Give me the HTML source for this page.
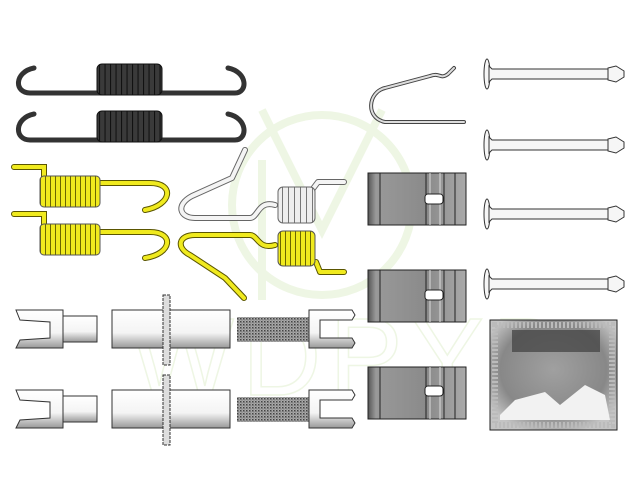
<!DOCTYPE html>
<html><head><meta charset="utf-8"><style>
html,body{margin:0;padding:0;background:#fff;width:640px;height:480px;overflow:hidden}
svg{display:block}
</style></head><body>
<svg width="640" height="480" viewBox="0 0 640 480" xmlns="http://www.w3.org/2000/svg">
<defs>
<pattern id="coilB" width="5.5" height="10" patternUnits="userSpaceOnUse"><rect width="5.5" height="10" fill="#3a3a3a"/><line x1="0.5" y1="0" x2="0.5" y2="10" stroke="#111" stroke-width="1.2"/></pattern>
<pattern id="coilY" width="5" height="10" patternUnits="userSpaceOnUse"><rect width="5" height="10" fill="#f0ea1e"/><line x1="0.5" y1="0" x2="0.5" y2="10" stroke="#6b6600" stroke-width="1"/></pattern>
<pattern id="coilW" width="6" height="10" patternUnits="userSpaceOnUse"><rect width="6" height="10" fill="#eee"/><line x1="0.5" y1="0" x2="0.5" y2="10" stroke="#777" stroke-width="1"/></pattern>
<pattern id="thr" width="3" height="3" patternUnits="userSpaceOnUse"><rect width="3" height="3" fill="#aaa"/><rect width="1.5" height="1.5" fill="#444"/><rect x="1.5" y="1.5" width="1" height="1" fill="#666"/></pattern>
<linearGradient id="cyl" x1="0" y1="0" x2="0" y2="1"><stop offset="0" stop-color="#fff"/><stop offset="0.6" stop-color="#f4f4f4"/><stop offset="1" stop-color="#999"/></linearGradient>
<linearGradient id="blk" x1="0" y1="0" x2="1" y2="0"><stop offset="0" stop-color="#555"/><stop offset="0.08" stop-color="#999"/><stop offset="0.6" stop-color="#8a8a8a"/><stop offset="1" stop-color="#aaa"/></linearGradient>
<radialGradient id="sach" cx="0.5" cy="0.45" r="0.6"><stop offset="0" stop-color="#a0a0a0"/><stop offset="0.7" stop-color="#888"/><stop offset="1" stop-color="#c4c4c4"/></radialGradient>
</defs>

<!-- watermark -->
<g fill="none" stroke="#eef6e4" stroke-width="8">
<circle cx="322" cy="205" r="90"/>
<path d="M262 110 L322 230 L382 110"/>
<line x1="262" y1="160" x2="262" y2="300"/>
</g>
<text x="130" y="395" font-family="Liberation Sans, sans-serif" font-size="110" fill="none" stroke="#eef6e4" stroke-width="1.5" letter-spacing="8">WDPYD</text>

<!-- black springs -->
<g fill="none" stroke="#333" stroke-width="5" stroke-linecap="round">
<path d="M34 68 C14 72 14 93 30 93 L235 93 C248 93 248 72 228 68"/>
<path d="M34 114 C14 118 14 140 30 140 L235 140 C248 140 248 118 228 114"/>
</g>
<rect x="97" y="64" width="65" height="31" rx="5" fill="url(#coilB)" stroke="#111"/>
<rect x="97" y="111" width="65" height="31" rx="5" fill="url(#coilB)" stroke="#111"/>

<!-- yellow springs left -->
<g fill="none" stroke="#5a5500" stroke-width="6" stroke-linecap="round"><path d="M14 167 L44 167 L44 178"/><path d="M100 183 L150 183 C175 183 172 205 145 210"/><path d="M14 214 L44 214 L44 225"/><path d="M100 232 L150 232 C175 232 172 254 145 258"/></g>
<g fill="none" stroke="#f0ea1e" stroke-width="4" stroke-linecap="round"><path d="M14 167 L44 167 L44 178"/><path d="M100 183 L150 183 C175 183 172 205 145 210"/><path d="M14 214 L44 214 L44 225"/><path d="M100 232 L150 232 C175 232 172 254 145 258"/></g>
<rect x="40" y="176" width="60" height="31" rx="4" fill="url(#coilY)" stroke="#555"/>
<rect x="40" y="224" width="60" height="31" rx="4" fill="url(#coilY)" stroke="#555"/>

<!-- white spring -->
<g fill="none" stroke-linecap="round" stroke-linejoin="round">
<path d="M245 150 L232 178 L192 196 C175 205 180 218 195 218 L250 218 C258 218 258 200 275 205" stroke="#666" stroke-width="6"/>
<path d="M245 150 L232 178 L192 196 C175 205 180 218 195 218 L250 218 C258 218 258 200 275 205" stroke="#f4f4f4" stroke-width="4"/>
<path d="M312 190 L318 182 L344 182" stroke="#666" stroke-width="6"/>
<path d="M312 190 L318 182 L344 182" stroke="#f4f4f4" stroke-width="4"/>
</g>
<rect x="278" y="187" width="37" height="36" rx="5" fill="url(#coilW)" stroke="#666"/>

<!-- yellow lower spring -->
<g fill="none" stroke-linecap="round" stroke-linejoin="round">
<path d="M275 245 C258 250 258 235 250 235 L195 235 C178 235 176 248 190 255 L225 278 L244 298" stroke="#5a5500" stroke-width="6"/>
<path d="M275 245 C258 250 258 235 250 235 L195 235 C178 235 176 248 190 255 L225 278 L244 298" stroke="#f0ea1e" stroke-width="4"/>
<path d="M316 262 L320 272 L344 272" stroke="#5a5500" stroke-width="6"/>
<path d="M316 262 L320 272 L344 272" stroke="#f0ea1e" stroke-width="4"/>
</g>
<rect x="278" y="231" width="37" height="35" rx="5" fill="url(#coilY)" stroke="#555"/>

<!-- clip -->
<g fill="none" stroke-linecap="round" stroke-linejoin="round">
<path d="M464 122 L385 122 C365 118 368 92 385 88 L430 76 C440 72 440 80 448 74 L454 68" stroke="#444" stroke-width="4"/>
<path d="M464 122 L385 122 C365 118 368 92 385 88 L430 76 C440 72 440 80 448 74 L454 68" stroke="#ddd" stroke-width="2"/>
</g>

<!-- blocks -->
<g stroke="#222" stroke-width="1">
<g><rect x="368" y="173" width="98" height="52" fill="url(#blk)"/><line x1="380" y1="173" x2="380" y2="225"/><line x1="426" y1="173" x2="426" y2="225"/><line x1="430" y1="173" x2="430" y2="225" stroke="#ddd"/><line x1="440" y1="173" x2="440" y2="225" stroke="#ddd"/><line x1="444" y1="173" x2="444" y2="225"/><line x1="455" y1="173" x2="455" y2="225"/><rect x="425" y="194" width="18" height="10" rx="3" fill="#fff"/></g>
<g><rect x="368" y="270" width="98" height="52" fill="url(#blk)"/><line x1="380" y1="270" x2="380" y2="322"/><line x1="426" y1="270" x2="426" y2="322"/><line x1="430" y1="270" x2="430" y2="322" stroke="#ddd"/><line x1="440" y1="270" x2="440" y2="322" stroke="#ddd"/><line x1="444" y1="270" x2="444" y2="322"/><line x1="455" y1="270" x2="455" y2="322"/><rect x="425" y="290" width="18" height="10" rx="3" fill="#fff"/></g>
<g><rect x="368" y="367" width="98" height="52" fill="url(#blk)"/><line x1="380" y1="367" x2="380" y2="419"/><line x1="426" y1="367" x2="426" y2="419"/><line x1="430" y1="367" x2="430" y2="419" stroke="#ddd"/><line x1="440" y1="367" x2="440" y2="419" stroke="#ddd"/><line x1="444" y1="367" x2="444" y2="419"/><line x1="455" y1="367" x2="455" y2="419"/><rect x="425" y="386" width="18" height="10" rx="3" fill="#fff"/></g>
</g>

<!-- pins -->
<g stroke="#333" stroke-width="1" fill="#f6f6f6">
<g transform="translate(0,74)"><ellipse cx="487" cy="0" rx="3" ry="15"/><path d="M489 -8 L492 -5 L610 -5 L610 5 L492 5 L489 8Z"/><path d="M608 -6 L616 -8 L624 -3 L624 3 L616 8 L608 6Z"/></g>
<g transform="translate(0,145)"><ellipse cx="487" cy="0" rx="3" ry="15"/><path d="M489 -8 L492 -5 L610 -5 L610 5 L492 5 L489 8Z"/><path d="M608 -6 L616 -8 L624 -3 L624 3 L616 8 L608 6Z"/></g>
<g transform="translate(0,214)"><ellipse cx="487" cy="0" rx="3" ry="15"/><path d="M489 -8 L492 -5 L610 -5 L610 5 L492 5 L489 8Z"/><path d="M608 -6 L616 -8 L624 -3 L624 3 L616 8 L608 6Z"/></g>
<g transform="translate(0,284)"><ellipse cx="487" cy="0" rx="3" ry="15"/><path d="M489 -8 L492 -5 L610 -5 L610 5 L492 5 L489 8Z"/><path d="M608 -6 L616 -8 L624 -3 L624 3 L616 8 L608 6Z"/></g>
</g>

<!-- sachet -->
<rect x="490" y="320" width="127" height="110" fill="url(#sach)" stroke="#222"/>
<rect x="495" y="325" width="117" height="100" fill="none" stroke="#bbb" stroke-width="6" stroke-dasharray="2 2"/>
<rect x="512" y="330" width="88" height="22" fill="#444" opacity="0.75"/>
<path d="M500 415 L515 400 L545 392 L560 405 L585 385 L605 395 L610 420 L500 420Z" fill="#f2f2f2"/>

<!-- bottom hardware rows -->
<g>
<path d="M16 310 L63 310 L63 348 L16 348 L20 340 L50 338 L50 322 L20 320Z" fill="url(#cyl)" stroke="#333"/>
<rect x="63" y="316" width="34" height="26" fill="url(#cyl)" stroke="#333"/>
<rect x="112" y="310" width="118" height="38" fill="url(#cyl)" stroke="#333"/>
<rect x="163" y="295" width="7" height="70" fill="#ddd" stroke="#333" stroke-dasharray="3 1"/>
<rect x="237" y="317" width="72" height="25" fill="url(#thr)"/>
<path d="M309 310 L352 310 L355 315 L352 320 L320 320 L320 338 L352 338 L355 343 L352 348 L309 348Z" fill="url(#cyl)" stroke="#333"/>
</g>
<g transform="translate(0,80)">
<path d="M16 310 L63 310 L63 348 L16 348 L20 340 L50 338 L50 322 L20 320Z" fill="url(#cyl)" stroke="#333"/>
<rect x="63" y="316" width="34" height="26" fill="url(#cyl)" stroke="#333"/>
<rect x="112" y="310" width="118" height="38" fill="url(#cyl)" stroke="#333"/>
<rect x="163" y="295" width="7" height="70" fill="#ddd" stroke="#333" stroke-dasharray="3 1"/>
<rect x="237" y="317" width="72" height="25" fill="url(#thr)"/>
<path d="M309 310 L352 310 L355 315 L352 320 L320 320 L320 338 L352 338 L355 343 L352 348 L309 348Z" fill="url(#cyl)" stroke="#333"/>
</g>
</svg>
</body></html>
